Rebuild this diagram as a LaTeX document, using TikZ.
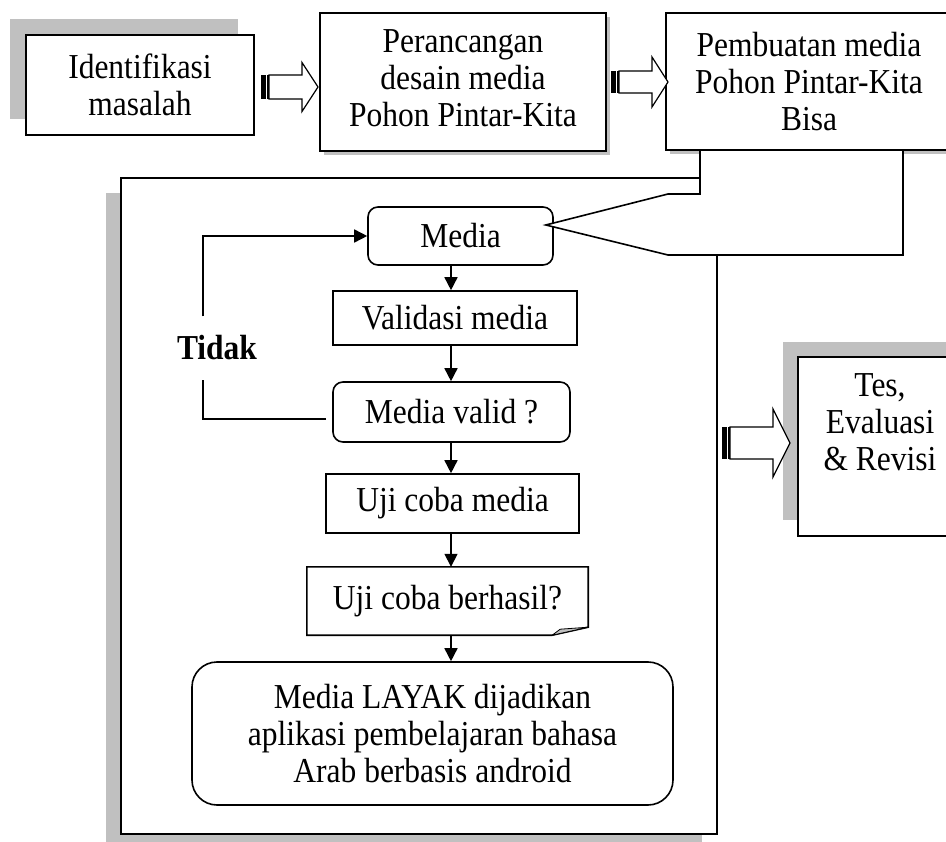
\documentclass[tikz,border=0pt]{standalone}
\usepackage{fontspec}
\setmainfont{Liberation Serif}[FakeStretch=0.9]
\usetikzlibrary{arrows.meta,calc}
\definecolor{shadowgray}{RGB}{192,192,192}
\newcommand\blkarrow[6]{%
  \fill[black] (#1,#4-#5) rectangle (#1+4.5,#4+#5);
  \fill[black] (#1+6,#4-#5) rectangle (#1+8,#4+#5);
  \draw[line width=1.2pt, fill=white, line join=miter]
    (#1+8,#4-#5) -- (#2,#4-#5) -- (#2,#4-#6) -- (#3,#4) -- (#2,#4+#6)
    -- (#2,#4+#5) -- (#1+8,#4+#5) -- cycle;}
\begin{document}
\begin{tikzpicture}[x=1pt,y=-1pt,
  txt/.style={font=\fontsize{35}{37}\selectfont, align=center, inner sep=0pt},
  box/.style={draw, line width=1.6pt, fill=white, txt},
  rbox/.style={box, rounded corners=10pt},
  arr/.style={line width=1.6pt, -{Triangle[length=13pt,width=13pt]}},
  lin/.style={line width=1.6pt}]
\useasboundingbox (0,0) rectangle (946,842);
% top row
\fill[shadowgray] (10,19) rectangle (238,119);
\node[box, minimum width=228pt, minimum height=100pt] (ident) at (140,85) {Identifikasi\\masalah};
\fill[shadowgray] (324,17) rectangle (610,155);
\node[box, minimum width=286pt, minimum height=138pt] (rancang) at (463,82) {Perancangan\\desain media\\Pohon Pintar-Kita\\[-29pt]\mbox{}};
% container
\fill[shadowgray] (106,193) rectangle (702,850);
\node[draw, line width=1.6pt, fill=white, minimum width=596pt, minimum height=656pt, inner sep=0pt] (frame) at (419,506) {};
% inner flow
\coordinate (col) at (451,0);
\coordinate (lx) at (203,0);
\node[rbox, minimum width=185pt, minimum height=58pt] (media) at (460.5,236) {Media};
\node[box, minimum width=244pt, minimum height=54pt] (valid) at (455,318) {Validasi media};
\node[rbox, minimum width=237pt, minimum height=60pt] (mv) at (451.5,412) {Media valid ?};
\node[box, minimum width=253pt, minimum height=59pt] (uji) at (452.5,503.5) {Uji coba media};
\node[txt, minimum width=281pt, minimum height=68pt] (ujib) at (447.5,601) {Uji coba berhasil?};
\draw[lin, line join=miter] ($(ujib.south east)+(0,-8)$) -- (ujib.north east) -- (ujib.north west)
  -- (ujib.south west) -- ($(ujib.south east)+(-36,0)$) -- cycle;
\filldraw[fill=shadowgray, draw=black, line width=0.8pt] ($(ujib.south east)+(-36,0)$) -- ($(ujib.south east)+(-28,-6)$) -- ($(ujib.south east)+(0,-8)$) -- cycle;
\node[rbox, rounded corners=25pt, minimum width=481pt, minimum height=143pt] (layak) at (432.5,733.5) {Media LAYAK dijadikan\\aplikasi pembelajaran bahasa\\Arab berbasis android};
\draw[arr] (media.south -| col) -- (valid.north -| col);
\draw[arr] (valid.south -| col) -- (mv.north -| col);
\draw[arr] (mv.south -| col) -- (uji.north -| col);
\draw[arr] (uji.south -| col) -- (ujib.north -| col);
\draw[arr] (ujib.south -| col) -- (layak.north -| col);
\node[txt, font=\fontsize{35}{37}\selectfont\bfseries, minimum height=63pt] (tidak) at (217,348) {Tidak};
\draw[lin] ($(mv.west)+(-6,7)$) -| (tidak.south -| lx);
\draw[arr] (tidak.north -| lx) |- (media.west);
% callout and third box
\fill[shadowgray] (670,17) rectangle (956,154);
\coordinate (tip) at ($(media.east)+(-8,-11)$);
\fill[white] (700,150) -- (700,194) -- (668,194) -- (tip) -- (668,255) -- (903,255) -- (903,150) -- cycle;
\draw[lin, line join=miter] (700,150) -- (700,194) -- (668,194) -- (tip) -- (668,255) -- (903,255) -- (903,150);
\node[box, minimum width=286pt, minimum height=137pt] (buat) at (809,81.5) {Pembuatan media\\Pohon Pintar-Kita\\Bisa};
% Tes box
\fill[shadowgray] (783,342) rectangle (947,520);
\node[box, minimum width=164pt, minimum height=179pt] (tes) at (880,446.5) {Tes,\\Evaluasi\\\& Revisi\\[12pt]\mbox{}};
% block arrows
\blkarrow{261}{302}{318}{87}{12}{24.5}
\blkarrow{611}{652}{668}{82}{11}{25}
\blkarrow{722}{773}{790}{443}{16}{34}
\end{tikzpicture}
\end{document}
